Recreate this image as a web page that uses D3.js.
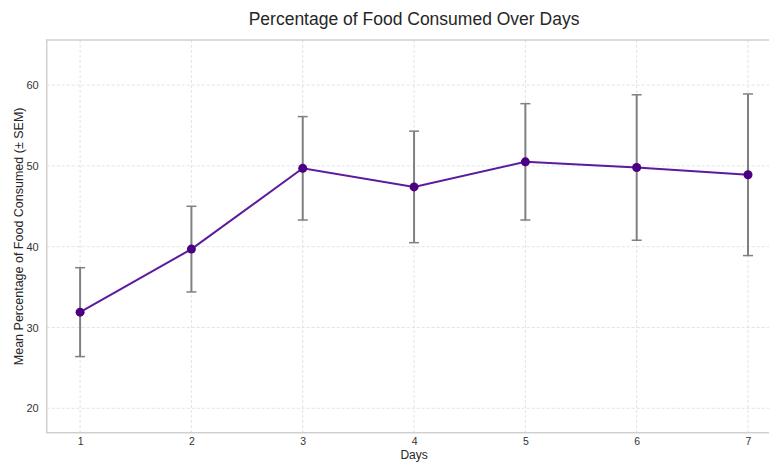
<!DOCTYPE html>
<html>
<head>
<meta charset="utf-8">
<script src="https://cdn.jsdelivr.net/npm/d3@7"></script>
<style>
  html, body { margin: 0; padding: 0; background: #ffffff; }
  svg { display: block; font-family: "Liberation Sans", Arial, Helvetica, sans-serif; }
</style>
</head>
<body>
<svg id="chart" width="769" height="463"></svg>
<script>
// Daily food consumption: mean percentage and standard error of the mean
const days = [1, 2, 3, 4, 5, 6, 7];
const meanPct = [31.9, 39.7, 49.7, 47.4, 50.5, 49.8, 48.9];
const semPct = [5.5, 5.3, 6.4, 6.9, 7.2, 9.0, 10.0];
const yTicks = [20, 30, 40, 50, 60];

const svg = d3.select("#chart");
const margin = { left: 46.7, top: 40, bottom: 432.7 };
const plotRight = 781.4; // plot frame runs past the window edge

const x = d3.scaleLinear().domain([0.7, 7.3]).range([margin.left, plotRight]);
const y = d3.scaleLinear().domain([16.98, 65.58]).range([margin.bottom, margin.top]);

const rows = days.map((d, i) => ({ day: d, mean: meanPct[i], sem: semPct[i] }));

// Grid lines
const grid = svg.append("g");
grid.selectAll("line.v").data(days).join("line")
  .attr("x1", d => x(d)).attr("x2", d => x(d))
  .attr("y1", margin.top).attr("y2", margin.bottom)
  .attr("stroke", "#dcdcdc").attr("stroke-width", 0.8).attr("stroke-dasharray", "3,2");
grid.selectAll("line.h").data(yTicks).join("line")
  .attr("x1", margin.left).attr("x2", plotRight)
  .attr("y1", d => y(d)).attr("y2", d => y(d))
  .attr("stroke", "#dcdcdc").attr("stroke-width", 0.8).attr("stroke-dasharray", "3,2");

// Frame
svg.append("rect")
  .attr("x", margin.left).attr("y", margin.top)
  .attr("width", plotRight - margin.left).attr("height", margin.bottom - margin.top)
  .attr("fill", "none").attr("stroke", "#cfcfcf").attr("stroke-width", 1.5);

// Axes (labels only, no tick marks)
const xAxis = svg.append("g")
  .attr("transform", `translate(0,${margin.bottom})`)
  .call(d3.axisBottom(x).tickValues(days).tickFormat(d3.format("d")).tickSize(0).tickPadding(5));
const yAxis = svg.append("g")
  .attr("transform", `translate(${margin.left},0)`)
  .call(d3.axisLeft(y).tickValues(yTicks).tickFormat(d3.format("d")).tickSize(0).tickPadding(8));
xAxis.selectAll("text").style("font-size", "10.5px");
yAxis.selectAll("text").style("font-size", "11px");
[xAxis, yAxis].forEach(a => {
  a.select(".domain").remove();
  a.selectAll("text").attr("fill", "#333333")
    .style("font-family", "Liberation Sans, Arial, sans-serif");
});

// Error bars
const eb = svg.append("g").attr("stroke", "#808080").attr("stroke-width", 2);
eb.selectAll("line.bar").data(rows).join("line")
  .attr("x1", d => x(d.day)).attr("x2", d => x(d.day))
  .attr("y1", d => y(d.mean - d.sem)).attr("y2", d => y(d.mean + d.sem));
eb.selectAll("line.capTop").data(rows).join("line")
  .attr("x1", d => x(d.day) - 5).attr("x2", d => x(d.day) + 5)
  .attr("y1", d => y(d.mean + d.sem)).attr("y2", d => y(d.mean + d.sem))
  .attr("stroke-width", 1.5);
eb.selectAll("line.capBot").data(rows).join("line")
  .attr("x1", d => x(d.day) - 5).attr("x2", d => x(d.day) + 5)
  .attr("y1", d => y(d.mean - d.sem)).attr("y2", d => y(d.mean - d.sem))
  .attr("stroke-width", 1.5);

// Mean line and markers
svg.append("path").datum(rows)
  .attr("fill", "none").attr("stroke", "#5c1a9e").attr("stroke-width", 2)
  .attr("d", d3.line().x(d => x(d.day)).y(d => y(d.mean)));
svg.append("g").selectAll("circle").data(rows).join("circle")
  .attr("cx", d => x(d.day)).attr("cy", d => y(d.mean)).attr("r", 4.5)
  .attr("fill", "#4b0082");

// Titles
svg.append("text")
  .attr("x", (margin.left + plotRight) / 2).attr("y", 25)
  .attr("text-anchor", "middle").attr("fill", "#262626")
  .style("font-size", "17.5px")
  .text("Percentage of Food Consumed Over Days");
svg.append("text")
  .attr("x", (margin.left + plotRight) / 2).attr("y", 459)
  .attr("text-anchor", "middle").attr("fill", "#262626")
  .style("font-size", "12px")
  .text("Days");
svg.append("text")
  .attr("transform", `translate(23,${(margin.top + margin.bottom) / 2}) rotate(-90)`)
  .attr("text-anchor", "middle").attr("fill", "#262626")
  .style("font-size", "12.5px")
  .text("Mean Percentage of Food Consumed (± SEM)");
</script>
</body>
</html>
